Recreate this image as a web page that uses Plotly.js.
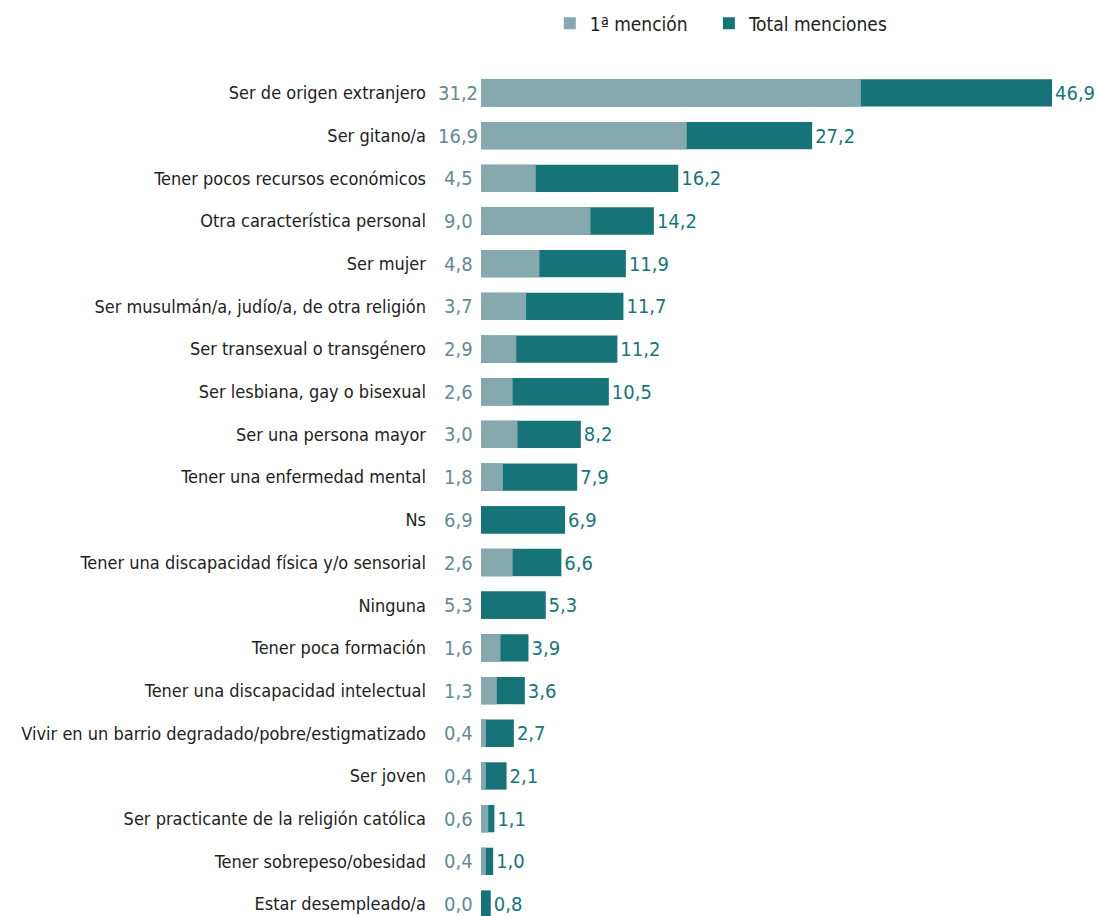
<!DOCTYPE html>
<html>
<head>
<meta charset="utf-8">
<script src="https://cdn.plot.ly/plotly-3.0.1.min.js"></script>
<style>
html,body{margin:0;padding:0;background:#fff;}
#chart{width:1096px;height:916px;}
</style>
</head>
<body>
<div id="chart"></div>
<script>
const categories = [
  "Ser de origen extranjero",
  "Ser gitano/a",
  "Tener pocos recursos económicos",
  "Otra característica personal",
  "Ser mujer",
  "Ser musulmán/a, judío/a, de otra religión",
  "Ser transexual o transgénero",
  "Ser lesbiana, gay o bisexual",
  "Ser una persona mayor",
  "Tener una enfermedad mental",
  "Ns",
  "Tener una discapacidad física y/o sensorial",
  "Ninguna",
  "Tener poca formación",
  "Tener una discapacidad intelectual",
  "Vivir en un barrio degradado/pobre/estigmatizado",
  "Ser joven",
  "Ser practicante de la religión católica",
  "Tener sobrepeso/obesidad",
  "Estar desempleado/a"
];
const primeraMencion = [31.2, 16.9, 4.5, 9.0, 4.8, 3.7, 2.9, 2.6, 3.0, 1.8, 6.9, 2.6, 5.3, 1.6, 1.3, 0.4, 0.4, 0.6, 0.4, 0.0];
const totalMenciones = [46.9, 27.2, 16.2, 14.2, 11.9, 11.7, 11.2, 10.5, 8.2, 7.9, 6.9, 6.6, 5.3, 3.9, 3.6, 2.7, 2.1, 1.1, 1.0, 0.8];
// rows where the first-mention bar is shown in the total colour in the original
const sinDesglose = ["Ns", "Ninguna"];
const seriesNames = ["1ª mención", "Total menciones"];

const LIGHT = "#86a9b0";
const DARK = "#167377";
const LIGHT_TXT = "#5f8c93";
const DARK_TXT = "#17757a";
const FONT = "'Liberation Sans Narrow', 'DejaVu Sans Condensed', 'Roboto Condensed', 'Arial Narrow', sans-serif";
const fmt = v => v.toFixed(1).replace('.', ',');
const GAP = "\u00a0\u00a0\u00a0";

const traceTotal = {
  type: 'bar', orientation: 'h',
  name: seriesNames[1], legendrank: 2,
  y: categories, x: totalMenciones,
  marker: {color: DARK, line: {width: 0}},
  text: totalMenciones.map(fmt),
  textposition: 'outside',
  textfont: {family: FONT, size: 20, color: DARK_TXT},
  constraintext: 'none',
  cliponaxis: false,
  hoverinfo: 'none'
};
const traceFirst = {
  type: 'bar', orientation: 'h',
  name: seriesNames[0] + GAP, legendrank: 1,
  y: categories, x: primeraMencion,
  marker: {color: categories.map(c => sinDesglose.includes(c) ? DARK : LIGHT), line: {width: 0}},
  hoverinfo: 'none'
};

const annotations = categories.map((c, i) => ({
  x: 0, y: c, xref: 'x', yref: 'y',
  text: fmt(primeraMencion[i]),
  showarrow: false, xanchor: 'center', yanchor: 'middle',
  xshift: -23,
  font: {family: FONT, size: 20, color: LIGHT_TXT}
}));

const layout = {
  width: 1096, height: 916,
  margin: {l: 481, r: 44, t: 72, b: 0},
  paper_bgcolor: '#fff', plot_bgcolor: '#fff',
  barmode: 'overlay', bargap: 0.36,
  font: {family: FONT, size: 18, color: '#222'},
  showlegend: true,
  legend: {
    orientation: 'h', x: 0.1205, xanchor: 'left', y: 1.08, yanchor: 'top',
    font: {family: FONT, size: 19, color: '#222'},
    itemclick: false, traceorder: 'normal'
  },
  xaxis: {
    range: [0, 46.9], showgrid: false, zeroline: false, showline: false,
    showticklabels: false, ticks: '', fixedrange: true
  },
  yaxis: {
    type: 'category', range: [19.28, -0.49],
    showgrid: false, zeroline: false, showline: false, ticks: '',
    ticklabelstandoff: 54,
    tickfont: {family: FONT, size: 18, color: '#222'},
    fixedrange: true
  },
  annotations: annotations
};

Plotly.newPlot('chart', [traceTotal, traceFirst], layout, {displayModeBar: false, staticPlot: true});
</script>
</body>
</html>
